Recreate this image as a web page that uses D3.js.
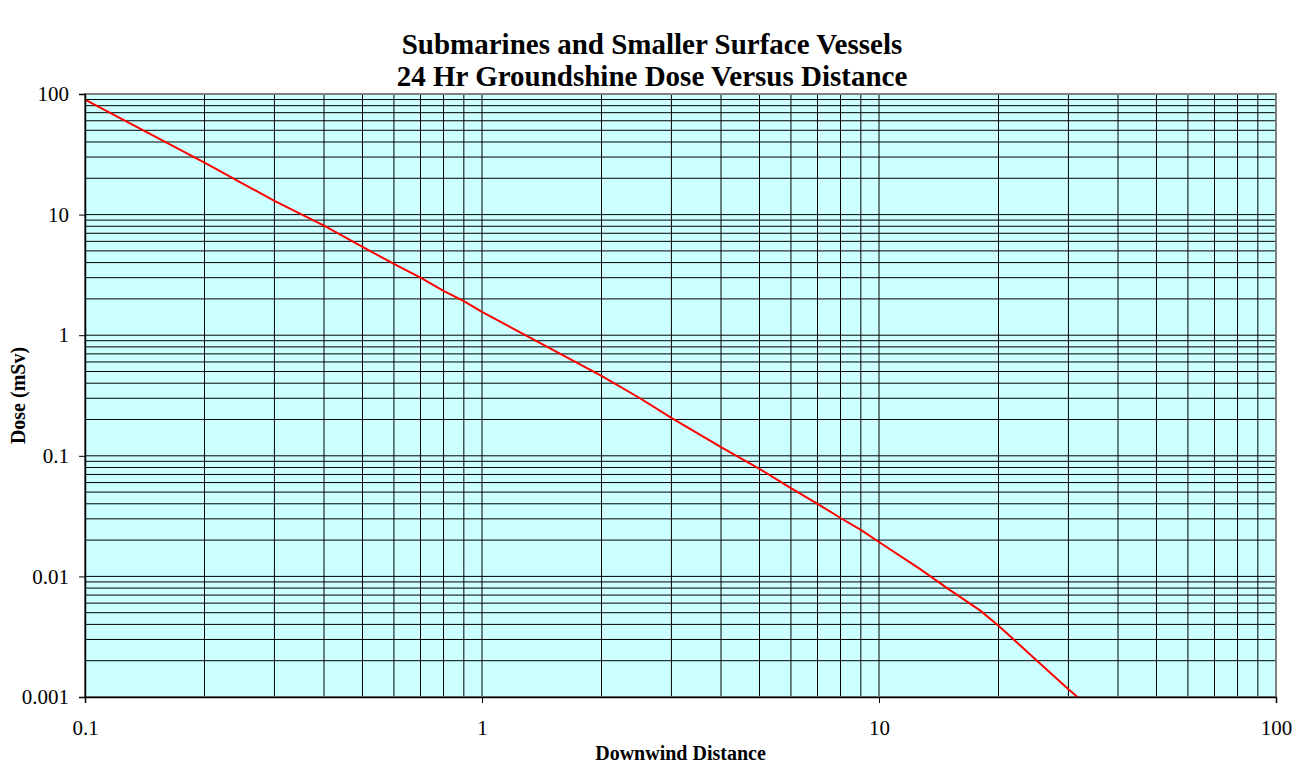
<!DOCTYPE html>
<html>
<head>
<meta charset="utf-8">
<script src="https://cdn.jsdelivr.net/npm/d3@7"></script>
<style>
  html, body { margin: 0; padding: 0; background: #fff; }
  svg { display: block; }
  text { font-family: "Liberation Serif", "Times New Roman", serif; fill: #000; }
</style>
</head>
<body>
<svg id="chart" width="1304" height="765"></svg>
<script>
// Downwind distance and 24 h groundshine dose
const distance = [0.1, 0.2, 0.3, 0.4, 0.5, 0.6, 0.7, 0.8, 0.9, 1, 2, 2.5, 3, 4, 5, 6, 7, 8, 9, 10, 12.7, 15, 18, 20, 25, 30, 35];
const dose     = [90, 27, 13, 8.1, 5.4, 3.9, 3.0, 2.33, 1.92, 1.56, 0.46, 0.30, 0.206, 0.118, 0.078, 0.054, 0.040, 0.0305, 0.0243, 0.0193, 0.0115, 0.0078, 0.0052, 0.0039, 0.0020, 0.00116, 0.00075];

const xTickLabels = ["0.1", "1", "10", "100"];
const yTickLabels = ["0.001", "0.01", "0.1", "1", "10", "100"];

const titleLines = ["Submarines and Smaller Surface Vessels", "24 Hr Groundshine Dose Versus Distance"];
const xTitle = "Downwind Distance";
const yTitle = "Dose (mSv)";

const svg = d3.select("#chart");
const plot = { left: 85, top: 94, right: 1276, bottom: 697 };

const x = d3.scaleLog().domain([0.1, 100]).range([plot.left, plot.right]);
const y = d3.scaleLog().domain([0.001, 100]).range([plot.bottom, plot.top]);

// Plot background
svg.append("rect")
  .attr("x", plot.left).attr("y", plot.top)
  .attr("width", plot.right - plot.left).attr("height", plot.bottom - plot.top)
  .attr("fill", "#ccffff");

// Full log grid: 1..9 in every decade
function logGrid(lo, hi) {
  const out = [];
  for (let e = lo; e < hi; e++) {
    for (let m = 1; m <= 9; m++) out.push(m * Math.pow(10, e));
  }
  out.push(Math.pow(10, hi));
  return out;
}
const xGrid = logGrid(-1, 2);
const yGrid = logGrid(-3, 2);

const grid = svg.append("g").attr("stroke", "#000").attr("stroke-width", 1);
grid.selectAll("line.v").data(xGrid).join("line")
  .attr("class", "v")
  .attr("x1", d => x(d)).attr("x2", d => x(d))
  .attr("y1", plot.top).attr("y2", plot.bottom);
grid.selectAll("line.h").data(yGrid).join("line")
  .attr("class", "h")
  .attr("x1", plot.left).attr("x2", plot.right)
  .attr("y1", d => y(d)).attr("y2", d => y(d));

// Frame: grey on top and right
svg.append("rect")
  .attr("x", plot.left).attr("y", plot.top)
  .attr("width", plot.right - plot.left).attr("height", plot.bottom - plot.top)
  .attr("fill", "none").attr("stroke", "#808080").attr("stroke-width", 2);

// Dose curve, clipped to the plot area
svg.append("clipPath").attr("id", "plotClip")
  .append("rect")
  .attr("x", plot.left).attr("y", plot.top)
  .attr("width", plot.right - plot.left).attr("height", plot.bottom - plot.top);

const pts = distance.map((d, i) => [d, dose[i]]);
svg.append("path")
  .datum(pts)
  .attr("clip-path", "url(#plotClip)")
  .attr("fill", "none")
  .attr("stroke", "#ff0000")
  .attr("stroke-width", 2)
  .attr("d", d3.line().x(d => x(d[0])).y(d => y(d[1])));

// Axes
const xAxis = d3.axisBottom(x)
  .tickValues(xTickLabels.map(Number))
  .tickFormat((d, i) => xTickLabels[i])
  .tickSize(6);
const gx = svg.append("g").attr("transform", `translate(0,${plot.bottom})`).call(xAxis);

const yAxis = d3.axisLeft(y)
  .tickValues(yTickLabels.map(Number))
  .tickFormat((d, i) => yTickLabels[i])
  .tickSize(6).tickPadding(10);
const gy = svg.append("g").attr("transform", `translate(${plot.left},0)`).call(yAxis);

[gx, gy].forEach(g => {
  g.select(".domain").attr("stroke", "#000").attr("stroke-width", 1.5);
  g.selectAll(".tick line").attr("stroke", "#000");
  g.selectAll(".tick text")
    .style("font-family", "'Liberation Serif', 'Times New Roman', serif")
    .style("font-size", "21px")
    .attr("fill", "#000");
});
gx.selectAll(".tick text").attr("y", 38).attr("dy", 0);

// Two-line chart title
svg.selectAll("text.title").data(titleLines).join("text")
  .attr("class", "title")
  .attr("x", 652)
  .attr("y", (d, i) => 54 + i * 32)
  .attr("text-anchor", "middle")
  .style("font-size", "29px").style("font-weight", "bold")
  .text(d => d);

svg.append("text")
  .attr("x", (plot.left + plot.right) / 2).attr("y", 760)
  .attr("text-anchor", "middle")
  .style("font-size", "20px").style("font-weight", "bold")
  .text(xTitle);

svg.append("text")
  .attr("transform", `translate(25,${(plot.top + plot.bottom) / 2}) rotate(-90)`)
  .attr("text-anchor", "middle")
  .style("font-size", "20px").style("font-weight", "bold")
  .text(yTitle);
</script>
</body>
</html>
